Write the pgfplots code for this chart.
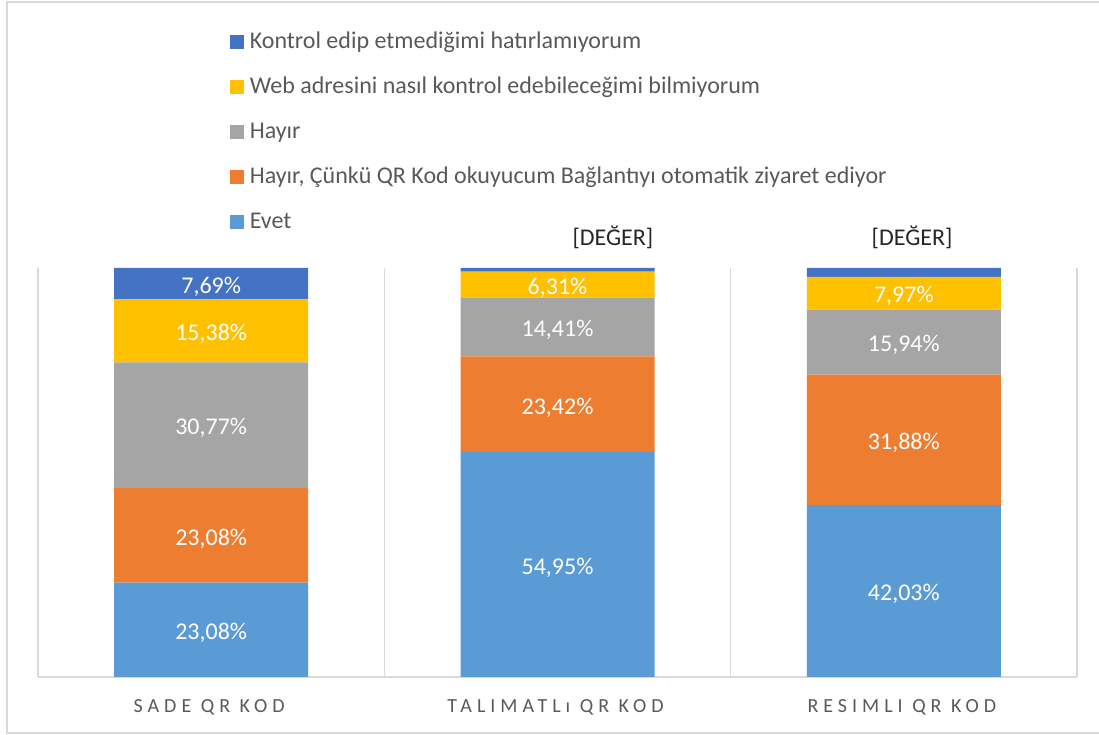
\documentclass[border=0pt]{standalone}
\usepackage{fontspec}
\setmainfont{Carlito}
\newfontfamily\tickfont[LetterSpace=25]{Carlito}
\usepackage{pgfplots}
\usepackage{pgfplotstable}
\pgfplotsset{compat=1.18}
\definecolor{cEvet}{HTML}{5B9BD5}
\definecolor{cOr}{HTML}{ED7D31}
\definecolor{cGr}{HTML}{A5A5A5}
\definecolor{cYe}{HTML}{FFC000}
\definecolor{cBl}{HTML}{4472C4}
\definecolor{txt}{HTML}{595959}
\definecolor{gridc}{HTML}{D9D9D9}
\pgfplotstableread{
x evet hayirc hayir web kontrol
0 23.08 23.08 30.77 15.38 7.69
1 54.95 23.42 14.41 6.31 0.91
2 42.03 31.88 15.94 7.97 2.18
}\datatable
% label positions: middle of each stacked segment, computed from the data
\pgfplotstablecreatecol[create col/expr={\thisrow{evet}/2}]{mevet}\datatable
\pgfplotstablecreatecol[create col/expr={\thisrow{evet}+\thisrow{hayirc}/2}]{mhayirc}\datatable
\pgfplotstablecreatecol[create col/expr={\thisrow{evet}+\thisrow{hayirc}+\thisrow{hayir}/2}]{mhayir}\datatable
\pgfplotstablecreatecol[create col/expr={\thisrow{evet}+\thisrow{hayirc}+\thisrow{hayir}+\thisrow{web}/2}]{mweb}\datatable
\pgfplotsset{
  geom/.style={
    at={(38pt,58pt)}, anchor=south west,
    scale only axis, width=1039pt, height=409pt,
    xmin=-0.5, xmax=2.5, ymin=0, ymax=100,
  },
  midlabel/.style={
    draw=none, mark=none,
    nodes near coords={\pgfmathprintnumber{\pgfplotspointmeta}\%},
    point meta=\thisrow{#1},
    every node near coord/.style={anchor=center, text=white, yshift=-3pt,
      font=\fontsize{24}{27}\selectfont},
  }
}
\begin{document}
\begin{tikzpicture}
\useasboundingbox (0,0) rectangle (1099pt,735pt);
\draw[gridc, line width=1.5pt] (7pt,2pt) rectangle (1110pt,733pt);
\begin{axis}[
  geom,
  ybar stacked, bar width=194pt,
  axis y line=none,
  axis x line*=bottom,
  x axis line style={gridc, line width=1.2pt, -},
  xtick={0,1,2},
  xticklabels={SADE QR KOD, TALIMATLı QR KOD, RESIMLI QR KOD},
  xticklabel style={font=\tickfont\fontsize{20}{23}\selectfont, text=txt, yshift=-19pt, xshift=-2pt},
  major tick length=0pt,
  minor xtick={-0.5,0.5,1.5,2.5},
  minor tick length=0pt,
  xminorgrids=true,
  minor grid style={gridc, line width=1.2pt},
  ytick=\empty,
  clip=false,
  legend style={at={(rel axis cs:0.182,1.59)}, anchor=north west, draw=none,
    fill=none, font=\fontsize{24}{27}\selectfont, text=txt,
    row sep=18pt, nodes={inner sep=2.5pt, text height=17pt, text depth=5pt},
    /tikz/every odd column/.append style={column sep=3pt}},
  legend cell align=left,
  reverse legend,
  legend image code/.code={\fill[#1] (0pt,-7pt) rectangle (14pt,7pt);},
]
\addplot[fill=cEvet, draw=none] table[x=x,y=evet]{\datatable};
\addlegendentry{Evet}
\addplot[fill=cOr, draw=none] table[x=x,y=hayirc]{\datatable};
\addlegendentry{Hayır, Çünkü QR Kod okuyucum Bağlantıyı otomatik ziyaret ediyor}
\addplot[fill=cGr, draw=none] table[x=x,y=hayir]{\datatable};
\addlegendentry{Hayır}
\addplot[fill=cYe, draw=none] table[x=x,y=web]{\datatable};
\addlegendentry{Web adresini nasıl kontrol edebileceğimi bilmiyorum}
\addplot[fill=cBl, draw=none] table[x=x,y=kontrol]{\datatable};
\addlegendentry{Kontrol edip etmediğimi hatırlamıyorum}
\end{axis}
\begin{axis}[
  geom, hide axis, clip=false,
  /pgf/number format/.cd, fixed, fixed zerofill, precision=2, use comma, assume math mode=true,
]
\addplot[midlabel=evet] table[x=x,y=mevet]{\datatable};
\addplot[midlabel=hayirc] table[x=x,y=mhayirc]{\datatable};
\addplot[midlabel=hayir] table[x=x,y=mhayir]{\datatable};
\addplot[midlabel=web] table[x=x,y=mweb]{\datatable};
\node[text=white, font=\fontsize{24}{27}\selectfont, yshift=-3pt] at (axis cs:0,96.155) {7,69\%};
\node[text=black!85, font=\fontsize{24}{27}\selectfont] at (axis cs:1.16,107.6) {[DEĞER]};
\node[text=black!85, font=\fontsize{24}{27}\selectfont] at (axis cs:2.024,107.6) {[DEĞER]};
\end{axis}
\end{tikzpicture}
\end{document}
